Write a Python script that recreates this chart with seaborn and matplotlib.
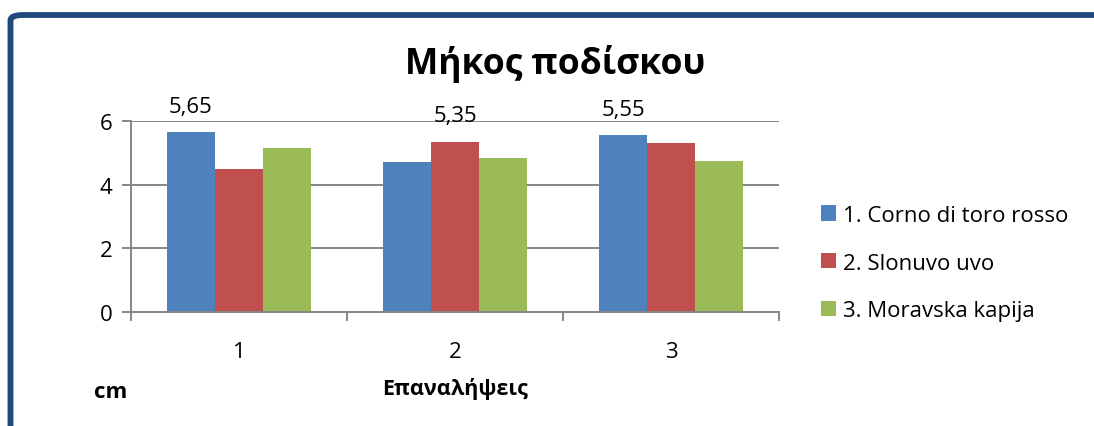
import matplotlib
matplotlib.use("Agg")
import matplotlib.pyplot as plt
import seaborn as sns
import pandas as pd
from matplotlib.patches import FancyBboxPatch, Patch

# ---- data ----
repetitions = ["1", "2", "3"]
varieties = ["1. Corno di toro rosso", "2. Slonuvo uvo", "3. Moravska kapija"]
corno = [5.65, 4.70, 5.55]
slonuvo = [4.50, 5.35, 5.30]
moravska = [5.15, 4.85, 4.75]
colors = ["#4F81BD", "#C0504D", "#9BBB59"]
y_ticks = [0, 2, 4, 6]
title = "Μήκος ποδίσκου"
x_title = "Επαναλήψεις"
y_title = "cm"

rows = []
for var, vals in zip(varieties, [corno, slonuvo, moravska]):
    for rep, v in zip(repetitions, vals):
        rows.append({"rep": rep, "variety": var, "value": v})
df = pd.DataFrame(rows)

sns.set_theme(style="white")
plt.rcParams["font.family"] = ["Open Sans", "DejaVu Sans"]
plt.rcParams["text.color"] = "black"
plt.rcParams["xtick.color"] = "black"
plt.rcParams["ytick.color"] = "black"

W, H = 1094, 427
fig = plt.figure(figsize=(W / 100, H / 100), dpi=100)
ax = fig.add_axes([131 / W, 1 - 313 / H, (779 - 131) / W, (313 - 122) / H])

sns.barplot(data=df, x="rep", y="value", hue="variety", order=repetitions,
            hue_order=varieties, palette=colors, width=0.667, gap=0,
            saturation=1, ax=ax, legend=False, errorbar=None)

for p in ax.patches:
    p.set_edgecolor("none")

ax.set_ylim(0, 6)
ax.set_xlim(-0.5, len(repetitions) - 0.5)
ax.set_yticks(y_ticks)
ax.set_yticklabels([str(t) for t in y_ticks])
grid_c = "#868686"
ax.yaxis.grid(True, color=grid_c, linewidth=1.4)
ax.set_axisbelow(True)
for s in ["top", "right"]:
    ax.spines[s].set_visible(False)
for s in ["left", "bottom"]:
    ax.spines[s].set_color(grid_c)
    ax.spines[s].set_linewidth(1.4)
ax.tick_params(axis="y", direction="out", length=6.5, width=1.4, color=grid_c,
               labelcolor="black", labelsize=16, pad=7, left=True)
ax.set_xticks(range(len(repetitions)))
ax.set_xticklabels(repetitions)
ax.set_xticks([i - 0.5 for i in range(len(repetitions) + 1)], minor=True)
ax.tick_params(axis="x", which="major", length=0, labelsize=16,
               labelcolor="black", pad=21)
ax.tick_params(axis="x", which="minor", direction="out", length=6.5, width=1.4,
               color=grid_c, bottom=True)
ax.set_xlabel("")
ax.set_ylabel("")

# data labels on maximum of each group
all_vals = [corno, slonuvo, moravska]
for ci, cont in enumerate(ax.containers):
    labels = []
    for gi in range(len(repetitions)):
        v = all_vals[ci][gi]
        gmax = max(vals[gi] for vals in all_vals)
        labels.append(f"{v:.2f}".replace(".", ",") if v == gmax else "")
    ax.bar_label(cont, labels=labels, padding=11, fontsize=16, color="black",
                 clip_on=False)

fig.text(555 / W, 1 - 64 / H, title, ha="center", va="center",
         fontsize=25.5, fontweight="bold", color="black")
fig.text(455 / W, 1 - 389 / H, x_title, ha="center", va="center",
         fontsize=15.5, fontweight="bold", color="black")
fig.text(111 / W, 1 - 393 / H, y_title, ha="center", va="center",
         fontsize=16, fontweight="bold", color="black")

handles = [Patch(facecolor=c, edgecolor="none") for c in colors]
leg = fig.legend(handles, varieties, loc="center left",
                 bbox_to_anchor=(821 / W, 1 - 264 / H), frameon=False,
                 fontsize=16, handlelength=0.68, handleheight=0.68,
                 handletextpad=0.3, labelspacing=1.2, borderaxespad=0,
                 borderpad=0)
for t in leg.get_texts():
    t.set_color("black")

frame = FancyBboxPatch((10.5 / W, -0.2), 1.2, 1 - 16 / H + 0.2,
                       boxstyle="round,pad=0,rounding_size=0.012",
                       transform=fig.transFigure, facecolor="none",
                       edgecolor="#1F497D", linewidth=4.2, clip_on=False)
fig.patches.append(frame)

fig.savefig("out.png", dpi=100)
